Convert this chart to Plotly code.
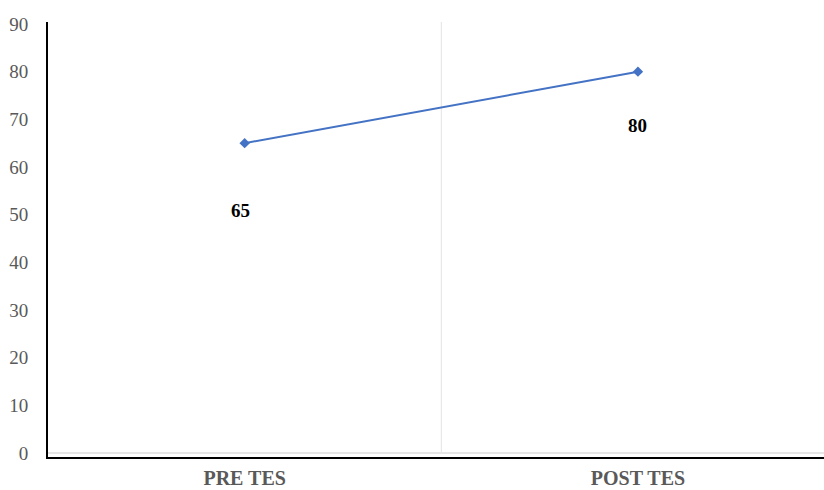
import plotly.graph_objects as go

categories = ["PRE TES", "POST TES"]
scores = [65, 80]
y_ticks = [0, 10, 20, 30, 40, 50, 60, 70, 80, 90]

SERIF = "Liberation Serif, Times New Roman, serif"
GRAY = "#595959"

fig = go.Figure()
fig.add_trace(go.Scatter(
    x=categories, y=scores, mode="lines+markers",
    line=dict(color="#4472C4", width=2),
    marker=dict(symbol="diamond", size=8, color="#4472C4"),
    hoverinfo="skip", showlegend=False,
))

# value labels under each point
label_offsets = [(-4, -67), (0, -54)]
for cat, val, (dx, dy) in zip(categories, scores, label_offsets):
    fig.add_annotation(
        x=cat, y=val, text=f"<b>{val}</b>", showarrow=False,
        xshift=dx, yshift=dy,
        font=dict(family=SERIF, size=19, color="#000000"),
    )

# vertical separator between the two categories
fig.add_shape(type="line", xref="x", yref="y", x0=0.5, x1=0.5, y0=0, y1=90.42,
              line=dict(color="#e3e3e3", width=1), layer="below")

fig.update_layout(
    width=824, height=490,
    margin=dict(l=48, r=0, t=22, b=33),
    plot_bgcolor="white", paper_bgcolor="white",
    font=dict(family=SERIF, color=GRAY),
    xaxis=dict(
        type="category", range=[-0.5, 1.473], automargin=False,
        showgrid=False, zeroline=False,
        showline=True, linecolor="#000000", linewidth=2,
        ticks="", ticklabelstandoff=2,
        tickfont=dict(family=SERIF, size=20, color=GRAY),
        tickvals=categories, ticktext=[f"<b>{c}</b>" for c in categories],
    ),
    yaxis=dict(
        range=[-0.84, 90.42], tickvals=y_ticks, automargin=False,
        showgrid=False,
        zeroline=True, zerolinecolor="#e6e6e6", zerolinewidth=2,
        showline=True, linecolor="#000000", linewidth=2,
        ticks="", ticklabelstandoff=14,
        tickfont=dict(family=SERIF, size=19, color=GRAY),
    ),
)

fig.write_html("out.html")
